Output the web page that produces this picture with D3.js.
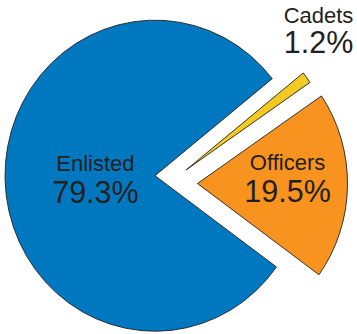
<!DOCTYPE html>
<html>
<head>
<meta charset="utf-8">
<script src="https://cdn.jsdelivr.net/npm/d3@7"></script>
<style>
  html, body { margin: 0; padding: 0; background: #fff; }
  svg { display: block; }
</style>
</head>
<body>
<svg id="chart" width="357" height="334"></svg>
<script>
// Personnel shares (percent)
const categories = ["Cadets", "Officers", "Enlisted"];
const values = [1.2, 19.5, 79.3];
const valueLabels = ["1.2%", "19.5%", "79.3%"];
const colors = ["#F3CA1F", "#F7931E", "#0078C0"];

// Layout: exploded slice centres and label offsets from each centre
const layout = {
  Cadets:   { cx: 186,   cy: 170,   ldx: 132.5, nameDy: -147.3, valDy: -116.7 },
  Officers: { cx: 197.5, cy: 183.5, ldx: 90,    nameDy: -13.5,  valDy: 18.2 },
  Enlisted: { cx: 155,   cy: 175.7, ldx: -59.6, nameDy: -5,     valDy: 27.6 }
};
const radius = 150;
const yStretch = 1.037;
const start = 51.4 * Math.PI / 180;

const svg = d3.select("#chart");

const pie = d3.pie()
  .sort(null)
  .value(d => d.value)
  .startAngle(start)
  .endAngle(start + 2 * Math.PI);

const arc = d3.arc().innerRadius(0).outerRadius(radius);

const data = categories.map((c, i) => ({
  name: c, value: values[i], label: valueLabels[i], color: colors[i]
}));
const arcs = pie(data);

// Draw the large slice first so the small ones sit on top
const order = arcs.slice().sort((a, b) => b.value - a.value);

svg.selectAll("g.slice")
  .data(order)
  .join("g")
  .attr("class", "slice")
  .attr("transform", d => {
    const p = layout[d.data.name];
    return `translate(${p.cx},${p.cy}) scale(1,${yStretch})`;
  })
  .append("path")
  .attr("d", arc)
  .attr("fill", d => d.data.color)
  .attr("stroke", "#231F20")
  .attr("stroke-width", 0.9)
  .attr("stroke-linejoin", "miter")
  .attr("vector-effect", "non-scaling-stroke");

const labels = svg.selectAll("g.label")
  .data(arcs)
  .join("g")
  .attr("class", "label")
  .attr("transform", d => {
    const p = layout[d.data.name];
    return `translate(${p.cx + p.ldx},${p.cy})`;
  })
  .attr("text-anchor", "middle")
  .attr("fill", "#231F20")
  .style("font-family", "'Liberation Sans', Arial, sans-serif");

labels.append("text")
  .attr("y", d => layout[d.data.name].nameDy)
  .style("font-size", "22px")
  .text(d => d.data.name);

labels.append("text")
  .attr("y", d => layout[d.data.name].valDy)
  .style("font-size", "30.5px")
  .text(d => d.data.label);
</script>
</body>
</html>
